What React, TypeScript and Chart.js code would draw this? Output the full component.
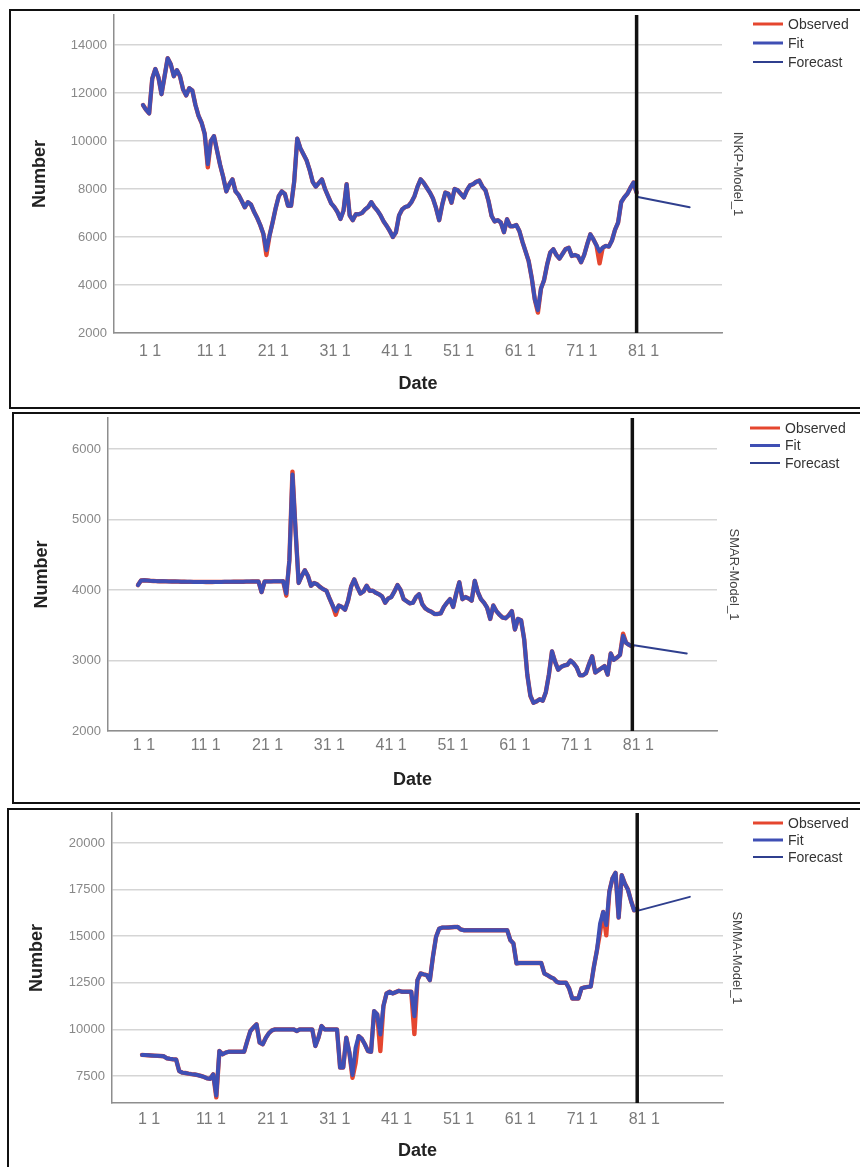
import React, { useEffect, useRef } from 'react';
import { Chart, registerables } from 'chart.js';

Chart.register(...registerables);

const FONT = '"Liberation Sans", Arial, sans-serif';
Chart.defaults.font.family = FONT;

// Readings are taken every half period, starting at period 1 and ending at period 81.
const PERIOD_START = 1;
const PERIOD_STEP = 0.5;
const FORECAST_ORIGIN = 81;

const xTickPeriods = [1, 11, 21, 31, 41, 51, 61, 71, 81];
const xTickLabels = ['1 1', '11 1', '21 1', '31 1', '41 1', '51 1', '61 1', '71 1', '81 1'];
const legendLabels = ['Observed', 'Fit', 'Forecast'];

// ---- INKP ----
const inkpYTicks = [2000, 4000, 6000, 8000, 10000, 12000, 14000];
const inkpObserved = [
  11500, 11300, 11150, 12600, 13000, 12650, 11950, 12700, 13450, 13200,
  12700, 12950, 12700, 12150, 11900, 12200, 12100, 11500, 11050, 10760,
  10300, 8900, 10000, 10200, 9600, 9000, 8500, 7900, 8200, 8400,
  7900, 7750, 7500, 7240, 7450, 7350, 7050, 6800, 6500, 6140,
  5250, 6050, 6600, 7200, 7700, 7900, 7790, 7300, 7300, 8300,
  10100, 9700, 9450, 9200, 8800, 8300, 8100, 8250, 8400, 8000,
  7700, 7400, 7250, 7050, 6750, 7100, 8200, 6900, 6700, 6950,
  6950, 7000, 7150, 7250, 7450, 7250, 7100, 6900, 6650, 6460,
  6250, 6000, 6200, 6900, 7150, 7250, 7290, 7450, 7700, 8100,
  8400, 8250, 8050, 7850, 7600, 7200, 6700, 7350, 7850, 7800,
  7430, 8000, 7950, 7800, 7650, 7950, 8150, 8200, 8300, 8350,
  8100, 7950, 7500, 6875, 6650, 6700, 6600, 6200, 6740, 6450,
  6450, 6500, 6250, 5800, 5400, 5000, 4300, 3400, 2850, 3850,
  4200, 4850, 5350, 5490, 5250, 5100, 5300, 5500, 5550, 5210,
  5250, 5200, 4950, 5250, 5700, 6110, 5900, 5650, 4900, 5550,
  5630, 5600, 5850, 6300, 6600, 7450, 7650, 7800, 8050, 8270,
  7850,
];
const inkpFit = [
  11500, 11300, 11150, 12600, 13000, 12650, 11950, 12700, 13450, 13200,
  12700, 12950, 12700, 12150, 11900, 12200, 12100, 11500, 11050, 10760,
  10300, 9030, 10000, 10200, 9600, 9000, 8500, 7900, 8200, 8400,
  7900, 7750, 7500, 7240, 7450, 7350, 7050, 6800, 6500, 6140,
  5450, 6050, 6600, 7200, 7700, 7900, 7790, 7300, 7300, 8300,
  10100, 9700, 9450, 9200, 8800, 8300, 8100, 8250, 8400, 8000,
  7700, 7400, 7250, 7050, 6750, 7100, 8200, 6900, 6700, 6950,
  6950, 7000, 7150, 7250, 7450, 7250, 7100, 6900, 6650, 6460,
  6250, 6000, 6200, 6900, 7150, 7250, 7290, 7450, 7700, 8100,
  8400, 8250, 8050, 7850, 7600, 7200, 6700, 7350, 7850, 7800,
  7430, 8000, 7950, 7800, 7650, 7950, 8150, 8200, 8300, 8350,
  8100, 7950, 7500, 6875, 6650, 6700, 6600, 6200, 6740, 6450,
  6450, 6500, 6250, 5800, 5400, 5000, 4300, 3400, 2950, 3850,
  4200, 4850, 5350, 5490, 5250, 5100, 5300, 5500, 5550, 5210,
  5250, 5200, 4950, 5250, 5700, 6110, 5900, 5650, 5400, 5550,
  5630, 5600, 5850, 6300, 6600, 7450, 7650, 7800, 8050, 8270,
  7850,
];
const inkpForecastPeriods = [81, 89.6];
const inkpForecast = [7680, 7240];

// ---- SMAR ----
const smarYTicks = [2000, 3000, 4000, 5000, 6000];
const smarObserved = [
  4070, 4135, 4138, 4135, 4130, 4128, 4126, 4125, 4124, 4123,
  4122, 4121, 4120, 4119, 4118, 4117, 4116, 4116, 4115, 4115,
  4115, 4115, 4114, 4114, 4114, 4115, 4115, 4115, 4116, 4116,
  4116, 4117, 4117, 4118, 4118, 4119, 4119, 4120, 4120, 4121,
  3970, 4122, 4122, 4122, 4123, 4123, 4123, 4124, 3920, 4420,
  5680, 4850, 4100, 4200, 4280, 4200, 4060, 4100, 4080, 4040,
  4010, 3990, 3880, 3780, 3650, 3780, 3760, 3720, 3850, 4050,
  4150, 4040, 3950, 3980, 4060, 3990, 3990, 3960, 3940, 3910,
  3820, 3880, 3900, 3980, 4070, 4000, 3870, 3840, 3810, 3820,
  3900, 3940, 3800, 3740, 3710, 3690, 3660, 3660, 3670, 3760,
  3820, 3870, 3760, 3950, 4110, 3870, 3900, 3880, 3850, 4130,
  3970, 3870, 3820, 3750, 3590, 3780, 3700, 3650, 3610, 3600,
  3640, 3700, 3440, 3590, 3570, 3300, 2800, 2500, 2400, 2420,
  2450, 2430, 2550, 2800, 3130, 2980, 2870, 2910, 2930, 2940,
  3000, 2960, 2900, 2790, 2790, 2820, 2950, 3060, 2830, 2860,
  2890, 2920, 2800, 3100, 3010, 3040, 3080, 3380, 3250, 3220,
  3200,
];
const smarFit = [
  4070, 4135, 4138, 4135, 4130, 4128, 4126, 4125, 4124, 4123,
  4122, 4121, 4120, 4119, 4118, 4117, 4116, 4116, 4115, 4115,
  4115, 4115, 4114, 4114, 4114, 4115, 4115, 4115, 4116, 4116,
  4116, 4117, 4117, 4118, 4118, 4119, 4119, 4120, 4120, 4121,
  3970, 4122, 4122, 4122, 4123, 4123, 4123, 4124, 3950, 4420,
  5640, 4850, 4100, 4200, 4280, 4200, 4060, 4100, 4080, 4040,
  4010, 3990, 3880, 3780, 3700, 3780, 3760, 3720, 3850, 4050,
  4150, 4040, 3950, 3980, 4060, 3990, 3990, 3960, 3940, 3910,
  3820, 3880, 3900, 3980, 4070, 4000, 3870, 3840, 3810, 3820,
  3900, 3940, 3800, 3740, 3710, 3690, 3660, 3660, 3670, 3760,
  3820, 3870, 3760, 3950, 4110, 3870, 3900, 3880, 3850, 4130,
  3970, 3870, 3820, 3750, 3590, 3780, 3700, 3650, 3610, 3600,
  3640, 3700, 3440, 3590, 3570, 3300, 2800, 2500, 2400, 2420,
  2450, 2430, 2550, 2800, 3130, 2980, 2870, 2910, 2930, 2940,
  3000, 2960, 2900, 2790, 2790, 2820, 2950, 3060, 2830, 2860,
  2890, 2920, 2800, 3100, 3010, 3040, 3080, 3350, 3250, 3220,
  3200,
];
const smarForecastPeriods = [81, 89.8];
const smarForecast = [3220, 3100];

// ---- SMMA ----
const smmaYTicks = [7500, 10000, 12500, 15000, 17500, 20000];
const smmaObserved = [
  8630, 8620, 8610, 8600, 8590, 8580, 8570, 8560, 8450, 8420,
  8400, 8390, 7770, 7680, 7660, 7625, 7600, 7580, 7550, 7500,
  7450, 7375, 7350, 7590, 6350, 8840, 8660, 8750, 8800, 8800,
  8800, 8800, 8800, 8800, 9375, 9910, 10100, 10270, 9290, 9200,
  9550, 9800, 9950, 10000, 10000, 10000, 10000, 10000, 10000, 10000,
  9910, 10000, 10000, 10000, 10000, 10000, 9110, 9550, 10180, 10000,
  10000, 10000, 10000, 10000, 7950, 7950, 9550, 8750, 7400, 8200,
  9640, 9500, 9200, 8840, 8800, 10980, 10800, 8840, 11250, 11930,
  12020, 11930, 12000, 12070, 12020, 12020, 12020, 12020, 9750, 12640,
  13000, 12950, 12910, 12640, 13900, 14960, 15400, 15460, 15460, 15470,
  15480, 15490, 15500, 15360, 15320, 15320, 15320, 15320, 15320, 15320,
  15320, 15320, 15320, 15320, 15320, 15320, 15320, 15320, 15320, 14790,
  14610, 13540, 13560, 13560, 13560, 13560, 13560, 13560, 13560, 13560,
  13000, 12910, 12800, 12730, 12550, 12500, 12500, 12500, 12200, 11660,
  11660, 11660, 12200, 12250, 12280, 12300, 13360, 14250, 15200, 16300,
  15050, 17400, 18100, 18400, 16000, 18270, 17820, 17500, 16900, 16390,
  16480,
];
const smmaFit = [
  8630, 8620, 8610, 8600, 8590, 8580, 8570, 8560, 8450, 8420,
  8400, 8390, 7770, 7680, 7660, 7625, 7600, 7580, 7550, 7500,
  7450, 7375, 7350, 7590, 6450, 8840, 8660, 8750, 8800, 8800,
  8800, 8800, 8800, 8800, 9375, 9910, 10100, 10270, 9290, 9200,
  9550, 9800, 9950, 10000, 10000, 10000, 10000, 10000, 10000, 10000,
  9910, 10000, 10000, 10000, 10000, 10000, 9110, 9550, 10180, 10000,
  10000, 10000, 10000, 10000, 7950, 7950, 9550, 8750, 7550, 9020,
  9640, 9500, 9200, 8840, 8800, 10980, 10800, 9730, 11250, 11930,
  12020, 11930, 12000, 12070, 12020, 12020, 12020, 12020, 10700, 12640,
  13000, 12950, 12910, 12640, 13900, 14960, 15400, 15460, 15460, 15470,
  15480, 15490, 15500, 15360, 15320, 15320, 15320, 15320, 15320, 15320,
  15320, 15320, 15320, 15320, 15320, 15320, 15320, 15320, 15320, 14790,
  14610, 13540, 13560, 13560, 13560, 13560, 13560, 13560, 13560, 13560,
  13000, 12910, 12800, 12730, 12550, 12500, 12500, 12500, 12200, 11660,
  11660, 11660, 12200, 12250, 12280, 12300, 13360, 14250, 15680, 16300,
  15600, 17400, 18100, 18400, 16000, 18270, 17820, 17500, 16900, 16390,
  16480,
];
const smmaForecastPeriods = [81, 89.5];
const smmaForecast = [16360, 17110];

// ---- styling ----
const RED = '#e5462f';
const BLUE = '#3f4fb4';
const NAVY = '#2f3f8e';
const GRID = '#d5d5d5';
const AXIS = '#8e8e8e';
const seriesStyles = [
  { color: RED, keyWidth: 3 },
  { color: BLUE, keyWidth: 3 },
  { color: NAVY, keyWidth: 2 },
];

type PanelSpec = {
  model: string;
  observed: number[];
  fit: number[];
  forecastPeriods: number[];
  forecast: number[];
  yTicks: number[];
  yMin: number;
  yMax: number;
  xMin: number;
  xMax: number;
  box: { left: number; top: number; height: number };
  canvas: { w: number; h: number };
  plot: { left: number; right: number; top: number; bottom: number };
  numberPad: number;
  datePad: number;
  xTickPad: number;
  labelOffset: number;
  key: { dx: number; dy: number; gap: number };
  labelDx: number;
};

const panels: PanelSpec[] = [
  {
    model: 'INKP-Model_1',
    observed: inkpObserved, fit: inkpFit,
    forecastPeriods: inkpForecastPeriods, forecast: inkpForecast,
    yTicks: inkpYTicks, yMin: 2000, yMax: 15250, xMin: -3.7, xMax: 94.84,
    box: { left: 9, top: 9, height: 400 },
    canvas: { w: 849, h: 396 },
    plot: { left: 103, right: 711, top: 4, bottom: 322 },
    numberPad: 18.7, datePad: 12.2, xTickPad: 9.4, labelOffset: 7,
    key: { dx: 31, dy: 9, gap: 19 }, labelDx: 16,
  },
  {
    model: 'SMAR-Model_1',
    observed: smarObserved, fit: smarFit,
    forecastPeriods: smarForecastPeriods, forecast: smarForecast,
    yTicks: smarYTicks, yMin: 2000, yMax: 6440, xMin: -3.85, xMax: 94.7,
    box: { left: 12, top: 412, height: 392 },
    canvas: { w: 846, h: 388 },
    plot: { left: 94, right: 703, top: 4, bottom: 317 },
    numberPad: 17.7, datePad: 11.2, xTickPad: 5.4, labelOffset: 6,
    key: { dx: 33, dy: 10, gap: 17.5 }, labelDx: 17,
  },
  {
    model: 'SMMA-Model_1',
    observed: smmaObserved, fit: smmaFit,
    forecastPeriods: smmaForecastPeriods, forecast: smmaForecast,
    yTicks: smmaYTicks, yMin: 6050, yMax: 21610, xMin: -3.85, xMax: 94.86,
    box: { left: 7, top: 808, height: 365 },
    canvas: { w: 851, h: 360 },
    plot: { left: 103, right: 714, top: 3, bottom: 293 },
    numberPad: 17.7, datePad: 8.2, xTickPad: 7.4, labelOffset: 7,
    key: { dx: 30, dy: 10, gap: 17 }, labelDx: 14,
  },
];

const toPoints = (vals: number[]) =>
  vals.map((y, i) => ({ x: PERIOD_START + i * PERIOD_STEP, y }));

// Legend swatches on the right plus the rotated model name.
function makeKeyPlugin(p: PanelSpec) {
  return {
    id: 'seriesKey',
    afterDraw(chart: any) {
      const { ctx, chartArea } = chart;
      ctx.save();
      const x0 = chartArea.right + p.key.dx;
      seriesStyles.forEach((s, i) => {
        const y = chartArea.top + p.key.dy + i * p.key.gap;
        ctx.strokeStyle = s.color;
        ctx.lineWidth = s.keyWidth;
        ctx.lineCap = 'butt';
        ctx.beginPath();
        ctx.moveTo(x0, y);
        ctx.lineTo(x0 + 30, y);
        ctx.stroke();
        ctx.fillStyle = '#333';
        ctx.font = `14px ${FONT}`;
        ctx.textAlign = 'left';
        ctx.textBaseline = 'middle';
        ctx.fillText(legendLabels[i], x0 + 35, y + 1);
      });
      ctx.translate(chartArea.right + p.labelDx, (chartArea.top + chartArea.bottom) / 2);
      ctx.rotate(Math.PI / 2);
      ctx.fillStyle = '#444';
      ctx.font = `13px ${FONT}`;
      ctx.textAlign = 'center';
      ctx.textBaseline = 'middle';
      ctx.fillText(p.model, 0, 0);
      ctx.restore();
    },
  };
}

function buildConfig(p: PanelSpec): any {
  return {
    type: 'line',
    data: {
      datasets: [
        {
          label: 'origin',
          data: [
            { x: FORECAST_ORIGIN, y: p.yMin },
            { x: FORECAST_ORIGIN, y: p.yMax },
          ],
          borderColor: '#111',
          borderWidth: 3.5,
        },
        {
          label: legendLabels[2],
          data: p.forecast.map((y, i) => ({ x: p.forecastPeriods[i], y })),
          borderColor: NAVY,
          borderWidth: 2,
        },
        {
          label: legendLabels[1],
          data: toPoints(p.fit),
          borderColor: BLUE,
          borderWidth: 4,
        },
        {
          label: legendLabels[0],
          data: toPoints(p.observed),
          borderColor: RED,
          borderWidth: 4.4,
        },
      ],
    },
    options: {
      responsive: false,
      animation: false,
      devicePixelRatio: 1,
      layout: {
        padding: { left: 0, top: p.plot.top, right: p.canvas.w - p.plot.right, bottom: 0 },
      },
      elements: {
        line: { tension: 0, borderJoinStyle: 'round', borderCapStyle: 'round', fill: false },
        point: { radius: 0, hoverRadius: 0 },
      },
      plugins: { legend: { display: false }, tooltip: { enabled: false } },
      scales: {
        x: {
          type: 'linear',
          min: p.xMin,
          max: p.xMax,
          grid: { display: false, drawTicks: false },
          border: { display: true, color: AXIS, width: 1.5 },
          afterBuildTicks: (s: any) => {
            s.ticks = xTickPeriods.map((v) => ({ value: v }));
          },
          ticks: {
            autoSkip: false,
            maxRotation: 0,
            padding: p.xTickPad,
            labelOffset: p.labelOffset,
            color: '#7a7a7a',
            font: { family: FONT, size: 16 },
            callback: (v: number) => xTickLabels[xTickPeriods.indexOf(v)],
          },
          title: {
            display: true,
            text: 'Date',
            color: '#222',
            font: { family: FONT, size: 18, weight: 'bold' },
            padding: { top: 0, bottom: p.datePad },
          },
          afterFit: (s: any) => {
            s.height = p.canvas.h - p.plot.bottom;
            s.paddingLeft = 0;
            s.paddingRight = 0;
          },
        },
        y: {
          type: 'linear',
          min: p.yMin,
          max: p.yMax,
          grid: { color: GRID, lineWidth: 1.5, drawTicks: false },
          border: { display: true, color: AXIS, width: 1.5 },
          afterBuildTicks: (s: any) => {
            s.ticks = p.yTicks.map((v) => ({ value: v }));
          },
          ticks: {
            autoSkip: false,
            padding: 7,
            color: '#888',
            font: { family: FONT, size: 13 },
            callback: (v: number) => String(v),
          },
          title: {
            display: true,
            text: 'Number',
            color: '#222',
            font: { family: FONT, size: 18, weight: 'bold' },
            padding: { top: p.numberPad, bottom: 0 },
          },
          afterFit: (s: any) => {
            s.width = p.plot.left;
            s.paddingTop = 0;
            s.paddingBottom = 0;
          },
        },
      },
    },
    plugins: [makeKeyPlugin(p)],
  };
}

function ModelPanel({ spec }: { spec: PanelSpec }) {
  const ref = useRef<HTMLCanvasElement>(null);
  useEffect(() => {
    if (!ref.current) return;
    const chart = new Chart(ref.current, buildConfig(spec));
    return () => chart.destroy();
  }, [spec]);
  return (
    <div
      style={{
        position: 'absolute',
        left: spec.box.left,
        top: spec.box.top,
        width: 872 - spec.box.left,
        height: spec.box.height,
        border: '2px solid #111',
        boxSizing: 'border-box',
      }}
    >
      <canvas
        ref={ref}
        width={spec.canvas.w}
        height={spec.canvas.h}
        style={{ position: 'absolute', left: 0, top: 0, width: spec.canvas.w, height: spec.canvas.h }}
      />
    </div>
  );
}

export default function App() {
  return (
    <div
      style={{
        position: 'absolute',
        left: 0,
        top: 0,
        width: 860,
        height: 1167,
        overflow: 'hidden',
        background: '#fff',
      }}
    >
      {panels.map((p) => (
        <ModelPanel key={p.model} spec={p} />
      ))}
    </div>
  );
}
